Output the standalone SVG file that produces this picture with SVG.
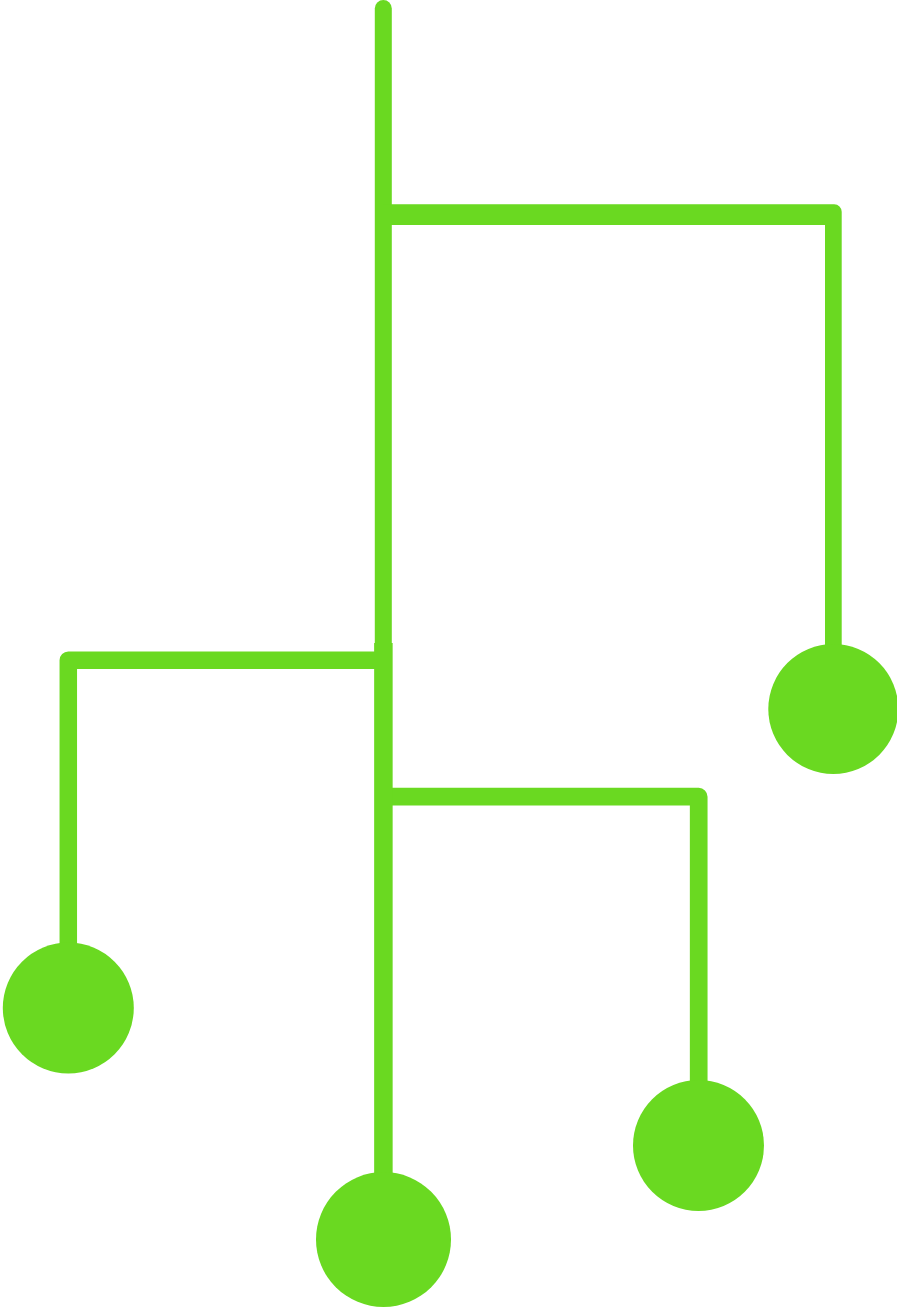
<svg xmlns="http://www.w3.org/2000/svg" width="897" height="1309" viewBox="0 0 897 1309">
<style>
.c{fill:none;stroke:#6ad921;stroke-linejoin:round}
.n{fill:#6ad921}
</style>
<rect width="897" height="1309" fill="#ffffff"/>
<g id="connectors">
<path class="c" d="M383.3 8.5 V656" stroke-width="17" style="stroke-linecap:round"/>
<path d="M383 204.3 H834.2 A7.5 7.5 0 0 1 841.7 211.8 V709 H825 V225 H383 Z" fill="#6ad921"/>
<path class="c" d="M383 660.3 H68.3 V1008" stroke-width="17.5"/>
<path class="c" d="M383 796.7 H698.7 V1145" stroke-width="17.7"/>
<path class="c" d="M383.4 643 V1240" stroke-width="18.5"/>
</g>
<g id="node-right"><circle class="n" cx="833.3" cy="709" r="65"/></g>
<g id="node-left"><circle class="n" cx="68.3" cy="1008" r="65.5"/></g>
<g id="node-bottom"><circle class="n" cx="383.5" cy="1239.5" r="67.5"/></g>
<g id="node-lower-right"><circle class="n" cx="698.5" cy="1145.5" r="65.5"/></g>
</svg>
